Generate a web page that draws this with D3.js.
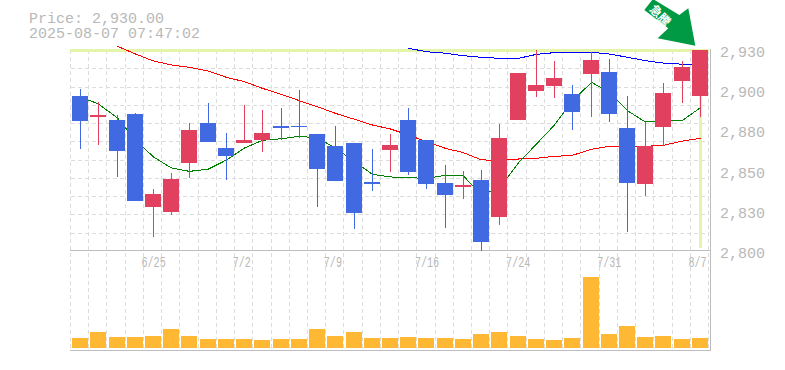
<!DOCTYPE html>
<html>
<head>
<meta charset="utf-8">
<script src="https://cdn.jsdelivr.net/npm/d3@7"></script>
<style>
  html, body { margin: 0; padding: 0; background: #fff; }
  svg { display: block; }
  text { font-family: "Liberation Mono", monospace; fill: #b8b8b8; }
</style>
</head>
<body>
<div id="chart"></div>
<script>
const titleLines = ['Price: 2,930.00', '2025-08-07 07:47:02'];

// one entry per trading day, index matches the candle
const opens = [2900.2, 2886.7, 2884.7, 2888.6, 2828.6, 2825.2, 2857.1, 2883.0, 2866.6, 2870.0, 2871.8, 2880.8, 2880.8, 2875.7, 2867.9, 2869.8, 2844.6, 2865.3, 2884.7, 2871.8, 2844.0, 2841.4, 2845.9, 2822.2, 2884.7, 2903.5, 2906.7, 2901.5, 2914.5, 2915.8, 2879.5, 2843.5, 2880.2, 2910.0, 2900.2];
const closes = [2884.3, 2888.0, 2864.9, 2832.5, 2836.9, 2846.6, 2878.3, 2870.7, 2861.6, 2871.8, 2876.3, 2879.5, 2880.2, 2853.2, 2845.5, 2824.8, 2843.5, 2868.6, 2851.3, 2843.5, 2836.4, 2842.7, 2806.0, 2873.1, 2915.1, 2907.4, 2911.9, 2889.9, 2923.5, 2888.6, 2844.2, 2867.9, 2902.2, 2919.0, 2930.0];
const highs = [2904.8, 2896.4, 2888.0, 2889.3, 2840.1, 2850.2, 2883.0, 2895.7, 2876.1, 2894.4, 2891.2, 2892.5, 2904.1, 2875.7, 2880.8, 2869.8, 2866.0, 2875.7, 2892.5, 2871.8, 2855.6, 2851.7, 2852.4, 2882.1, 2915.1, 2930.0, 2922.9, 2907.4, 2928.7, 2924.2, 2900.2, 2883.6, 2908.7, 2922.9, 2930.0];
const lows = [2866.0, 2868.6, 2848.1, 2832.5, 2809.2, 2823.5, 2847.4, 2870.7, 2846.1, 2870.0, 2864.2, 2871.6, 2873.3, 2828.6, 2845.5, 2814.4, 2839.0, 2851.3, 2849.2, 2840.3, 2815.1, 2833.8, 2800.2, 2817.0, 2884.7, 2899.6, 2899.0, 2878.3, 2886.7, 2883.4, 2812.5, 2835.8, 2867.9, 2895.7, 2886.7];

const volumes = [970, 1570, 1070, 1070, 1170, 1870, 1170, 870, 870, 870, 770, 870, 870, 1870, 1170, 1570, 970, 970, 1070, 970, 970, 870, 1370, 1570, 1170, 870, 770, 970, 7070, 1370, 2170, 1070, 1170, 870, 970];

// moving averages, null where the line has not started
const maShort = [2899.6, 2895.1, 2886.0, 2871.8, 2860.8, 2853.7, 2851.5, 2853.0, 2858.9, 2866.6, 2871.6, 2872.6, 2874.2, 2873.1, 2866.6, 2857.8, 2849.6, 2847.9, 2847.4, 2847.0, 2849.0, 2848.5, 2836.2, 2840.7, 2857.1, 2869.2, 2881.5, 2897.0, 2909.1, 2902.6, 2890.7, 2883.4, 2884.5, 2884.5, 2892.7];
const maMid = [null, null, 2932.4, 2927.4, 2922.9, 2920.3, 2918.8, 2916.4, 2912.3, 2909.5, 2905.2, 2901.3, 2897.2, 2893.3, 2889.0, 2885.2, 2881.5, 2878.9, 2875.0, 2870.7, 2866.4, 2863.6, 2858.9, 2858.7, 2859.5, 2860.0, 2861.2, 2861.9, 2865.8, 2867.7, 2867.7, 2867.7, 2868.4, 2871.1, 2872.9];
const maLong = [null, null, null, null, null, null, null, null, null, null, null, null, null, null, null, null, null, null, 2931.1, 2928.9, 2927.9, 2926.3, 2925.3, 2924.6, 2924.6, 2927.2, 2928.3, 2928.5, 2928.5, 2927.4, 2925.3, 2923.1, 2921.5, 2920.8, 2920.3];

const dateLabels = [[4, '6/25'], [9, '7/2'], [14, '7/9'], [19, '7/16'], [24, '7/24'], [29, '7/31'], [34, '8/7']];
const priceTicks = [2800, 2826, 2852, 2878, 2904, 2930];
const priceTickLabels = ['2,800', '2,830', '2,850', '2,880', '2,900', '2,930'];

const lastPrice = closes[closes.length - 1];

const width = 785;
const height = 370;
const margin = {left: 71, right: 76, priceTop: 50, priceBottom: 251, volBottom: 348};
const plotRight = width - margin.right;

const svg = d3.select('#chart').append('svg')
  .attr('width', width)
  .attr('height', height);

const x = d3.scaleBand()
  .domain(d3.range(opens.length))
  .range([margin.left, plotRight]);

const y = d3.scaleLinear()
  .domain([2800, 2930])
  .range([margin.priceBottom, margin.priceTop]);

const yVol = d3.scaleLinear()
  .domain([0, 7070])
  .range([margin.volBottom, margin.volBottom - 70.7]);

const cx = i => Math.round(x(i) + x.bandwidth() / 2);

// grid
const grid = svg.append('g')
  .attr('stroke', '#dcdcdc')
  .attr('stroke-dasharray', '4,3')
  .attr('shape-rendering', 'crispEdges');

grid.selectAll('.vgrid')
  .data(d3.range(opens.length + 1))
  .enter()
  .append('line')
  .attr('class', 'vgrid')
  .attr('x1', i => Math.round(margin.left + i * x.step()) - 0.5)
  .attr('x2', i => Math.round(margin.left + i * x.step()) - 0.5)
  .attr('y1', margin.priceTop)
  .attr('y2', margin.volBottom + 2);

grid.selectAll('.hgrid')
  .data(d3.range(1, 11))
  .enter()
  .append('line')
  .attr('class', 'hgrid')
  .attr('x1', margin.left)
  .attr('x2', plotRight)
  .attr('y1', i => Math.round(y(2800 + i * 130 / 11)) + 0.5)
  .attr('y2', i => Math.round(y(2800 + i * 130 / 11)) + 0.5);

// frame
const frame = svg.append('g')
  .attr('stroke', '#bdbdbd')
  .attr('stroke-width', 1)
  .attr('shape-rendering', 'crispEdges');
frame.append('line').attr('x1', margin.left - 1).attr('x2', plotRight + 1).attr('y1', margin.priceBottom - 0.5).attr('y2', margin.priceBottom - 0.5);
frame.append('line').attr('x1', margin.left - 1).attr('x2', plotRight + 1).attr('y1', margin.volBottom + 2.5).attr('y2', margin.volBottom + 2.5);
frame.append('line').attr('x1', plotRight + 1.5).attr('x2', plotRight + 1.5).attr('y1', margin.priceTop - 1).attr('y2', margin.volBottom + 3);

// last price crosshair
svg.append('line')
  .attr('x1', margin.left - 1)
  .attr('x2', plotRight)
  .attr('y1', y(lastPrice) + 0.5)
  .attr('y2', y(lastPrice) + 0.5)
  .attr('stroke', '#e2f5a8')
  .attr('stroke-width', 3)
  .attr('shape-rendering', 'crispEdges');
svg.append('line')
  .attr('x1', cx(34) + 0.5)
  .attr('x2', cx(34) + 0.5)
  .attr('y1', margin.priceTop)
  .attr('y2', margin.priceBottom - 3)
  .attr('stroke', '#e2f5a8')
  .attr('stroke-width', 3)
  .attr('shape-rendering', 'crispEdges');

// moving averages go under the candles
const line = d3.line()
  .defined(d => d != null)
  .x((d, i) => cx(i) + 0.5)
  .y(d => y(d));

svg.selectAll('.ma')
  .data([[maLong, '#0000ff'], [maMid, '#ff0000'], [maShort, '#008000']])
  .enter()
  .append('path')
  .attr('class', 'ma')
  .attr('fill', 'none')
  .attr('stroke', d => d[1])
  .attr('stroke-width', 1)
  .attr('shape-rendering', 'crispEdges')
  .attr('d', d => line(d[0]));

// candles
const candleColor = i => (closes[i] >= opens[i] ? '#e2405f' : '#4169e1');

const candle = svg.selectAll('.candle')
  .data(d3.range(opens.length))
  .enter()
  .append('g')
  .attr('class', 'candle')
  .attr('shape-rendering', 'crispEdges');

candle.append('line')
  .attr('x1', i => cx(i) + 0.5)
  .attr('x2', i => cx(i) + 0.5)
  .attr('y1', i => y(highs[i]))
  .attr('y2', i => y(lows[i]))
  .attr('stroke', candleColor);

candle.append('rect')
  .attr('x', i => cx(i) - 8)
  .attr('width', 16)
  .attr('y', i => y(Math.max(opens[i], closes[i])))
  .attr('height', i => Math.max(1, Math.abs(y(opens[i]) - y(closes[i]))))
  .attr('fill', candleColor);

// volume
svg.selectAll('.vol')
  .data(volumes)
  .enter()
  .append('rect')
  .attr('class', 'vol')
  .attr('x', (d, i) => cx(i) - 8)
  .attr('width', 16)
  .attr('y', d => yVol(d))
  .attr('height', d => yVol(0) - yVol(d))
  .attr('fill', '#ffb833')
  .attr('shape-rendering', 'crispEdges');

// price labels
svg.selectAll('.price-label')
  .data(priceTicks)
  .enter()
  .append('text')
  .attr('class', 'price-label')
  .attr('x', 720)
  .attr('y', d => y(d) + 7)
  .attr('font-size', 15)
  .text((d, i) => priceTickLabels[i]);

// date labels, squeezed sideways like the original bitmap font
svg.selectAll('.date-label')
  .data(dateLabels)
  .enter()
  .append('text')
  .attr('class', 'date-label')
  .attr('font-size', 14)
  .attr('transform', d => `translate(${x(d[0]) + x.bandwidth() / 2 - 11.5},266.5) scale(0.72,1)`)
  .text(d => d[1]);

// title
svg.selectAll('.title')
  .data(titleLines)
  .enter()
  .append('text')
  .attr('class', 'title')
  .attr('x', 29)
  .attr('y', (d, i) => 23 + i * 15)
  .attr('font-size', 15)
  .text(d => d);

// arrow badge
svg.append('polygon')
  .attr('points', '644.3,10 653,-1 679.3,15 688.3,8.3 695.3,45.7 657.7,38.3 668.3,28.3')
  .attr('fill', '#009944');

svg.append('text')
  .attr('transform', 'translate(661,14.5) rotate(45)')
  .attr('text-anchor', 'middle')
  .attr('dominant-baseline', 'central')
  .attr('font-size', 12)
  .attr('font-weight', 'bold')
  .style('font-family', '"Noto Sans CJK JP"')
  .style('fill', '#fff')
  .text('急騰');
</script>
</body>
</html>
